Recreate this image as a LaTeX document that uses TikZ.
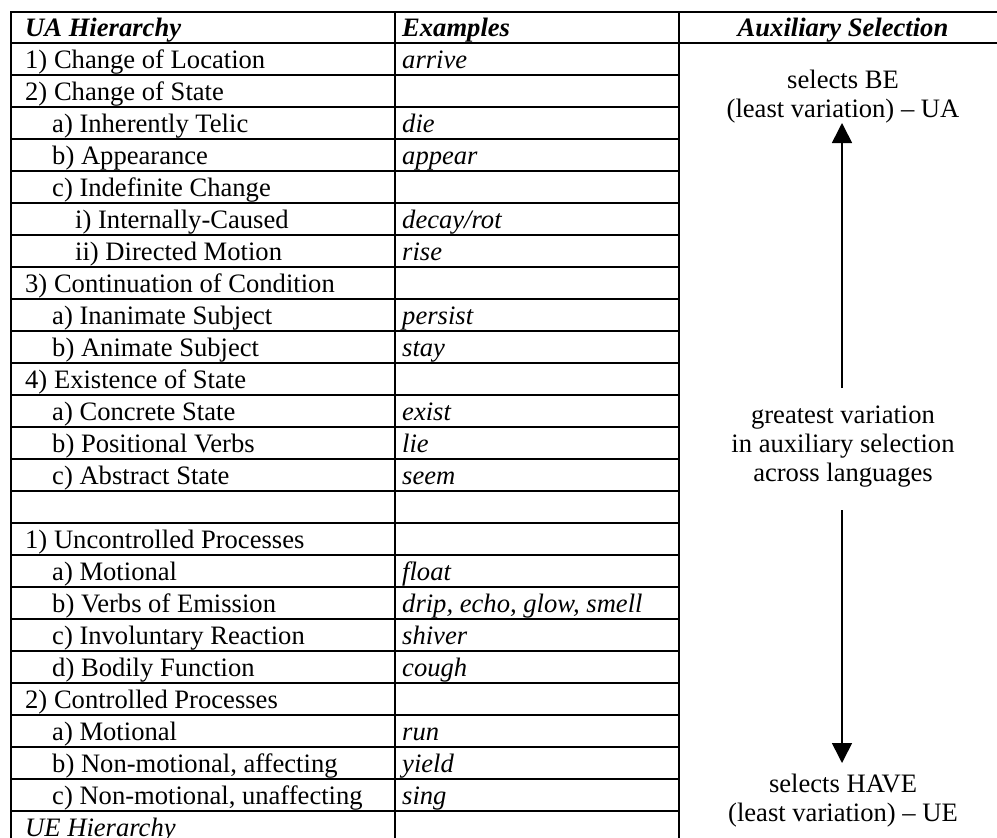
\documentclass[tikz,border=0pt]{standalone}
\usepackage{fontspec}
\setmainfont{Liberation Serif}
\usetikzlibrary{arrows.meta}
\tikzset{
  grid/.style={line width=1.6pt, line cap=rect},
  cell/.style={anchor=base west, inner sep=0pt, font=\fontsize{26.6}{30}\selectfont},
  ex/.style={cell, font=\fontsize{26.6}{30}\selectfont\itshape},
  head/.style={cell, font=\fontsize{26.6}{30}\selectfont\bfseries\itshape},
  note/.style={anchor=base, inner sep=0pt, font=\fontsize{26.6}{30}\selectfont},
  arr/.style={line width=1.6pt, -{Triangle[width=20pt,length=20pt]}}
}
\begin{document}
\begin{tikzpicture}[x=1pt,y=-1pt]
\useasboundingbox (0,0) rectangle (997,838);
% grid
\draw[grid] (11,12) -- (997,12);
\draw[grid] (11,43) -- (997,43);
\foreach \k in {1,...,24} {
  \draw[grid] (11,{43+32*\k}) -- (679,{43+32*\k});
}
\draw[grid] (11,12) -- (11,845);
\draw[grid] (395,12) -- (395,845);
\draw[grid] (679,12) -- (679,845);
% header
\node[head] (h1) at (25,36) {UA Hierarchy};
\node[head] (h2) at (402,36) {Examples};
\node[head, anchor=base] (h3) at (843,36) {Auxiliary Selection};
% rows: baseline = top + 25
\node[cell] (r1)  at (25,68)  {1) Change of Location};
\node[ex]   (e1)  at (402,68) {arrive};
\node[cell] (r2)  at (25,100) {2) Change of State};
\node[cell] (r3)  at (52,132) {a) Inherently Telic};
\node[ex]   (e3)  at (402,132) {die};
\node[cell] (r4)  at (52,164) {b) Appearance};
\node[ex]   (e4)  at (402,164) {appear};
\node[cell] (r5)  at (52,196) {c) Indefinite Change};
\node[cell] (r6)  at (75,228) {i) Internally-Caused};
\node[ex]   (e6)  at (402,228) {decay/rot};
\node[cell] (r7)  at (75,260) {ii) Directed Motion};
\node[ex]   (e7)  at (402,260) {rise};
\node[cell] (r8)  at (25,292) {3) Continuation of Condition};
\node[cell] (r9)  at (52,324) {a) Inanimate Subject};
\node[ex]   (e9)  at (402,324) {persist};
\node[cell] (r10) at (52,356) {b) Animate Subject};
\node[ex]   (e10) at (402,356) {stay};
\node[cell] (r11) at (25,388) {4) Existence of State};
\node[cell] (r12) at (52,420) {a) Concrete State};
\node[ex]   (e12) at (402,420) {exist};
\node[cell] (r13) at (52,452) {b) Positional Verbs};
\node[ex]   (e13) at (402,452) {lie};
\node[cell] (r14) at (52,484) {c) Abstract State};
\node[ex]   (e14) at (402,484) {seem};
\node[cell] (r16) at (25,548) {1) Uncontrolled Processes};
\node[cell] (r17) at (52,580) {a) Motional};
\node[ex]   (e17) at (402,580) {float};
\node[cell] (r18) at (52,612) {b) Verbs of Emission};
\node[ex]   (e18) at (402,612) {drip, echo, glow, smell};
\node[cell] (r19) at (52,644) {c) Involuntary Reaction};
\node[ex]   (e19) at (402,644) {shiver};
\node[cell] (r20) at (52,676) {d) Bodily Function};
\node[ex]   (e20) at (402,676) {cough};
\node[cell] (r21) at (25,708) {2) Controlled Processes};
\node[cell] (r22) at (52,740) {a) Motional};
\node[ex]   (e22) at (402,740) {run};
\node[cell] (r23) at (52,772) {b) Non-motional, affecting};
\node[ex]   (e23) at (402,772) {yield};
\node[cell] (r24) at (52,804) {c) Non-motional, unaffecting};
\node[ex]   (e24) at (402,804) {sing};
\node[ex]   (r25) at (25,836) {UE Hierarchy};
% auxiliary selection column
\node[note] (t1) at (843,88)  {selects BE};
\node[note] (t2) at (843,117) {(least variation) – UA};
\node[note] (m1) at (843,423) {greatest variation};
\node[note] (m2) at (843,452) {in auxiliary selection};
\node[note] (m3) at (843,481) {across languages};
\node[note] (b1) at (843,792) {selects HAVE};
\node[note] (b2) at (843,821) {(least variation) – UE};
\coordinate (upTail) at (842,388);
\coordinate (upTip) at (842,123);
\coordinate (dnTail) at (842,510);
\coordinate (dnTip) at (842,763);
\draw[arr] (upTail) -- (upTip);
\draw[arr] (dnTail) -- (dnTip);
\end{tikzpicture}
\end{document}
